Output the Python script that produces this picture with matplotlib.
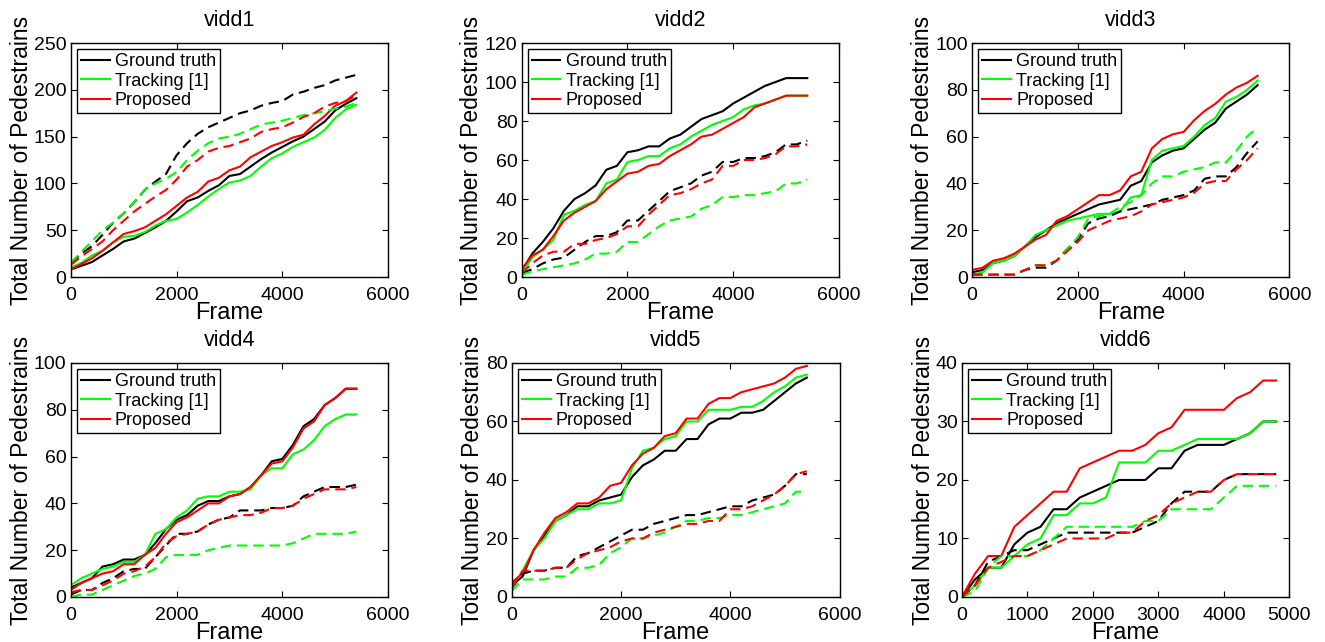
import matplotlib
matplotlib.use('Agg')
from matplotlib import pyplot as plt

plt.rcParams['font.family'] = ['Liberation Sans', 'DejaVu Sans']

# frame positions (every 200 frames)
frames = list(range(0, 5600, 200))
frames6 = list(range(0, 5000, 200))

# vidd1
v1_gt = [8, 12, 16, 23, 30, 38, 41, 47, 53, 60, 70, 81, 85, 92, 98, 108, 110, 118,
         126, 133, 139, 145, 150, 158, 166, 178, 185, 191]
v1_trk = [10, 15, 23, 28, 37, 43, 44, 48, 55, 60, 62, 69, 77, 86, 94, 101, 103, 108,
          118, 127, 132, 139, 144, 149, 157, 170, 179, 184]
v1_prop = [8, 14, 20, 28, 37, 46, 49, 53, 60, 67, 76, 85, 91, 102, 106, 114, 118, 128,
           134, 140, 144, 149, 152, 163, 172, 183, 188, 197]
v1_gt_d = [15, 25, 33, 45, 58, 68, 80, 93, 102, 110, 130, 143, 153, 160, 165, 170, 175,
           178, 183, 186, 188, 195, 198, 202, 205, 210, 213, 216]
v1_trk_d = [15, 27, 38, 50, 58, 68, 80, 93, 100, 105, 112, 125, 135, 143, 148, 150, 153,
            158, 163, 165, 167, 170, 173, 175, 177, 180, 182, 186]
v1_prop_d = [13, 22, 30, 38, 50, 60, 70, 78, 86, 93, 104, 118, 125, 134, 138, 140, 144,
             148, 155, 158, 160, 165, 171, 175, 182, 186, 188, 194]

# vidd2
v2_gt = [3, 12, 18, 25, 34, 40, 43, 47, 55, 57, 64, 65, 67, 67, 71, 73, 77, 81, 83, 85,
         89, 92, 95, 98, 100, 102, 102, 102]
v2_trk = [2, 10, 14, 19, 32, 34, 37, 39, 48, 50, 59, 60, 62, 62, 66, 68, 72, 75, 78, 80,
          82, 86, 88, 89, 91, 93, 93, 93]
v2_prop = [4, 11, 14, 21, 29, 33, 36, 39, 45, 49, 53, 54, 57, 58, 62, 65, 68, 72, 73, 76,
           79, 82, 87, 89, 91, 93, 93, 93]
v2_gt_d = [2, 4, 7, 9, 10, 14, 18, 21, 21, 23, 29, 29, 34, 39, 44, 46, 48, 52, 54, 59,
           59, 61, 61, 62, 64, 68, 68, 70]
v2_trk_d = [1, 3, 4, 5, 6, 7, 9, 12, 12, 13, 18, 18, 22, 26, 29, 30, 31, 35, 37, 41, 41,
            42, 42, 43, 44, 48, 48, 50]
v2_prop_d = [2, 7, 11, 13, 13, 17, 17, 19, 20, 22, 26, 26, 32, 37, 42, 43, 45, 48, 50,
             57, 57, 60, 60, 61, 63, 67, 67, 68]

# vidd3
v3_gt = [2, 3, 6, 7, 9, 13, 17, 20, 23, 25, 27, 29, 31, 32, 33, 39, 41, 49, 52, 54, 55,
         59, 63, 66, 72, 75, 78, 82]
v3_trk = [1, 2, 6, 7, 9, 13, 18, 20, 22, 24, 25, 26, 27, 27, 28, 34, 35, 50, 54, 55, 56,
          60, 65, 68, 75, 77, 80, 84]
v3_prop = [3, 4, 7, 8, 10, 13, 16, 18, 24, 26, 29, 32, 35, 35, 37, 43, 45, 55, 59, 61,
           62, 67, 71, 74, 78, 81, 83, 86]
v3_gt_d = [1, 1, 1, 1, 1, 3, 4, 4, 7, 12, 16, 23, 25, 26, 28, 29, 30, 31, 33, 34, 35, 37,
           42, 43, 43, 47, 53, 58]
v3_trk_d = [1, 1, 1, 1, 1, 3, 5, 5, 7, 12, 17, 25, 26, 27, 30, 32, 35, 40, 43, 43, 45,
            46, 47, 49, 49, 54, 60, 64]
v3_prop_d = [1, 1, 1, 1, 1, 3, 5, 5, 7, 11, 15, 20, 22, 24, 25, 26, 28, 31, 32, 33, 34,
             36, 40, 41, 41, 46, 50, 55]

# vidd4
v4_gt = [4, 6, 8, 13, 14, 16, 16, 18, 23, 29, 33, 35, 39, 41, 41, 43, 44, 47, 52, 58,
         59, 65, 73, 76, 82, 85, 89, 89]
v4_trk = [5, 8, 10, 12, 13, 15, 15, 18, 27, 29, 34, 37, 42, 43, 43, 45, 45, 46, 52, 55,
          55, 61, 63, 67, 73, 76, 78, 78]
v4_prop = [3, 6, 8, 10, 11, 14, 14, 18, 21, 27, 32, 34, 37, 40, 40, 43, 44, 47, 52, 57,
           58, 64, 72, 75, 82, 85, 89, 89]
v4_gt_d = [1, 3, 3, 6, 8, 11, 12, 12, 17, 22, 27, 27, 28, 31, 33, 34, 37, 37, 37, 38, 38,
           39, 43, 45, 47, 47, 47, 48]
v4_trk_d = [0, 1, 1, 3, 5, 7, 9, 10, 12, 17, 18, 18, 18, 20, 21, 22, 22, 22, 22, 22, 22,
            23, 25, 27, 27, 27, 27, 28]
v4_prop_d = [2, 3, 3, 5, 7, 10, 11, 13, 17, 23, 26, 27, 28, 31, 33, 34, 35, 35, 36, 38,
             38, 39, 42, 44, 46, 46, 46, 47]

# vidd5
v5_gt = [4, 7, 16, 21, 26, 28, 31, 31, 33, 34, 35, 41, 45, 47, 50, 50, 54, 54, 59, 61,
         61, 63, 63, 64, 67, 70, 73, 75]
v5_trk = [3, 9, 16, 20, 26, 28, 30, 30, 32, 32, 33, 44, 50, 51, 54, 55, 60, 60, 64, 64,
          64, 65, 65, 67, 70, 72, 75, 76]
v5_prop = [5, 8, 16, 22, 27, 29, 32, 32, 34, 38, 39, 45, 49, 51, 55, 56, 61, 61, 66, 68,
           68, 70, 71, 72, 73, 75, 78, 79]
v5_gt_d = [3, 8, 9, 9, 10, 10, 14, 15, 17, 19, 21, 23, 23, 25, 26, 27, 28, 28, 29, 30,
           31, 31, 33, 34, 35, 38, 42, 42]
v5_trk_d = [2, 6, 6, 6, 7, 7, 10, 10, 11, 15, 17, 20, 20, 21, 22, 24, 26, 26, 27, 27, 28,
            28, 29, 30, 31, 32, 36, 36]
v5_prop_d = [3, 9, 9, 9, 10, 10, 13, 15, 16, 17, 19, 20, 20, 22, 23, 24, 25, 25, 26, 26,
             30, 30, 31, 33, 35, 38, 42, 43]

# vidd6
v6_gt = [0, 3, 5, 5, 9, 11, 12, 15, 15, 17, 18, 19, 20, 20, 20, 22, 22, 25, 26, 26, 26,
         27, 28, 30, 30]
v6_trk = [0, 2, 5, 5, 7, 9, 10, 14, 14, 16, 16, 17, 23, 23, 23, 25, 25, 26, 27, 27, 27,
          27, 28, 30, 30]
v6_prop = [0, 4, 7, 7, 12, 14, 16, 18, 18, 22, 23, 24, 25, 25, 26, 28, 29, 32, 32, 32,
           32, 34, 35, 37, 37]
v6_gt_d = [0, 2, 6, 7, 8, 8, 9, 10, 11, 11, 11, 11, 11, 11, 12, 13, 16, 18, 18, 18, 20,
           21, 21, 21, 21]
v6_trk_d = [0, 1, 5, 7, 7, 7, 8, 10, 12, 12, 12, 12, 12, 12, 13, 13, 15, 15, 15, 15, 17,
            19, 19, 19, 19]
v6_prop_d = [0, 2, 5, 6, 7, 7, 8, 9, 10, 10, 10, 10, 11, 11, 13, 14, 16, 17, 18, 18, 20,
             21, 21, 21, 21]

panels = [
    ('vidd1', frames, (v1_gt, v1_trk, v1_prop), (v1_gt_d, v1_trk_d, v1_prop_d), 250, 6000),
    ('vidd2', frames, (v2_gt, v2_trk, v2_prop), (v2_gt_d, v2_trk_d, v2_prop_d), 120, 6000),
    ('vidd3', frames, (v3_gt, v3_trk, v3_prop), (v3_gt_d, v3_trk_d, v3_prop_d), 100, 6000),
    ('vidd4', frames, (v4_gt, v4_trk, v4_prop), (v4_gt_d, v4_trk_d, v4_prop_d), 100, 6000),
    ('vidd5', frames, (v5_gt, v5_trk, v5_prop), (v5_gt_d, v5_trk_d, v5_prop_d), 80, 6000),
    ('vidd6', frames6, (v6_gt, v6_trk, v6_prop), (v6_gt_d, v6_trk_d, v6_prop_d), 40, 5000),
]

labels = ['Ground truth', 'Tracking [1]', 'Proposed']
colors = ['k', '#00ff00', '#ff0000']

# axes boxes in figure fractions [left, bottom, width, height]
positions = [
    [0.0534, 0.5685, 0.2395, 0.3645],
    [0.3937, 0.5685, 0.2395, 0.3645],
    [0.7336, 0.5685, 0.2395, 0.3645],
    [0.0534, 0.0701, 0.2395, 0.3645],
    [0.3862, 0.0701, 0.2475, 0.3645],
    [0.7260, 0.0701, 0.2471, 0.3645],
]

fig = plt.figure(figsize=(13.25, 6.42), dpi=100)

for pos, (name, x, solid, dashed, ymax, xmax) in zip(positions, panels):
    ax = fig.add_axes(pos)
    for ys, c, lab in zip(solid, colors, labels):
        ax.plot(x, ys, color=c, lw=1.5, label=lab)
    for ys, c in zip(dashed, colors):
        ax.plot(x, ys, color=c, lw=1.5, linestyle=(0, (5, 2.8)))
    ax.set_xlim(0, xmax)
    ax.set_ylim(0, ymax)
    ax.set_title(name, fontsize=15.5, pad=12)
    ax.set_xlabel('Frame', fontsize=17, labelpad=-1)
    ax.set_ylabel('Total Number of Pedestrains', fontsize=16.5, labelpad=1)
    ax.tick_params(direction='in', top=True, right=True, length=4, width=0.8,
                   labelsize=14)
    ax.tick_params(axis='x', pad=7)
    ax.tick_params(axis='y', pad=3)
    for sp in ax.spines.values():
        sp.set_linewidth(1.0)
    ax.legend(loc='upper left', fontsize=13, frameon=True, fancybox=False,
              edgecolor='k', framealpha=1, handlelength=1.6, handletextpad=0.3,
              labelspacing=0.15, borderpad=0.2, borderaxespad=0.35)

plt.savefig('out.png', dpi=100)
